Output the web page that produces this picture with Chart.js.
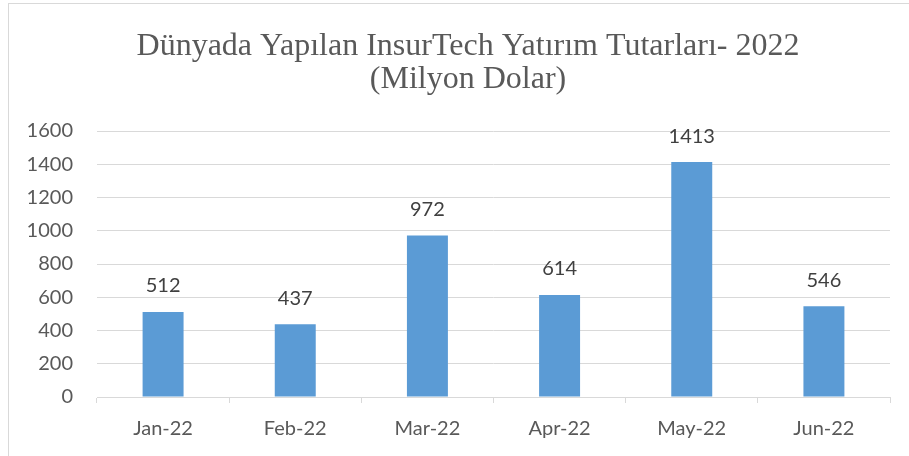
<!DOCTYPE html>
<html>
<head>
<meta charset="utf-8">
<script src="https://cdn.jsdelivr.net/npm/chart.js@4"></script>
<style>
  body { margin: 0; background: #fff; }
  #wrap { position: relative; width: 909px; height: 456px; }
  #frame { position: absolute; left: 8px; top: 3px; width: 920px; height: 470px; border: 1px solid #d9d9d9; box-sizing: border-box; }
  canvas { position: absolute; left: 0; top: 0; }
</style>
</head>
<body>
<div id="wrap">
  <div id="frame"></div>
  <canvas id="chart" width="909" height="456"></canvas>
</div>
<script>
// chart data
const months = ['Jan-22', 'Feb-22', 'Mar-22', 'Apr-22', 'May-22', 'Jun-22'];
const amounts = [512, 437, 972, 614, 1413, 546];
const yTicks = [0, 200, 400, 600, 800, 1000, 1200, 1400, 1600];
const titleLines = ['Dünyada Yapılan InsurTech Yatırım Tutarları- 2022', '(Milyon Dolar)'];

const labelFont = { family: 'Lato', size: 20 };

// title drawn by hand so it can sit off-centre like the original
const titlePlugin = {
  id: 'titlePlugin',
  afterDraw(chart) {
    const ctx = chart.ctx;
    ctx.save();
    ctx.font = '32px "Liberation Serif"';
    ctx.fillStyle = '#595959';
    ctx.textAlign = 'center';
    ctx.textBaseline = 'middle';
    ctx.fillText(titleLines[0], 468, 47);
    ctx.fillText(titleLines[1], 468, 80);
    ctx.restore();
  }
};

// value labels above bars
const barLabels = {
  id: 'barLabels',
  afterDatasetsDraw(chart) {
    const ctx = chart.ctx;
    const meta = chart.getDatasetMeta(0);
    ctx.save();
    ctx.font = '20px Lato';
    ctx.fillStyle = '#404040';
    ctx.textAlign = 'center';
    ctx.textBaseline = 'bottom';
    meta.data.forEach((bar, i) => {
      ctx.fillText(amounts[i], bar.x, bar.y - 16);
    });
    ctx.restore();
  }
};

const ctx = document.getElementById('chart').getContext('2d');
new Chart(ctx, {
  type: 'bar',
  data: {
    labels: months,
    datasets: [{
      data: amounts,
      backgroundColor: '#5b9bd5',
      categoryPercentage: 1,
      barPercentage: 0.31
    }]
  },
  options: {
    responsive: false,
    animation: false,
    layout: { padding: { top: 131, right: 19, bottom: 1, left: 0 } },
    plugins: {
      legend: { display: false },
      tooltip: { enabled: false },
      title: { display: false }
    },
    scales: {
      x: {
        grid: { drawOnChartArea: false, drawTicks: true, tickLength: 6, color: '#d9d9d9' },
        border: { color: '#d9d9d9' },
        ticks: { color: '#595959', font: labelFont, padding: 14 }
      },
      y: {
        min: 0,
        max: 1600,
        afterBuildTicks(scale) { scale.ticks = yTicks.map(v => ({ value: v })); },
        afterFit(scale) { scale.width = 97; },
        grid: { color: '#d9d9d9', drawTicks: false },
        border: { display: false },
        ticks: { color: '#595959', font: labelFont, padding: 24, callback: v => String(v) }
      }
    }
  },
  plugins: [barLabels, titlePlugin]
});
</script>
</body>
</html>
